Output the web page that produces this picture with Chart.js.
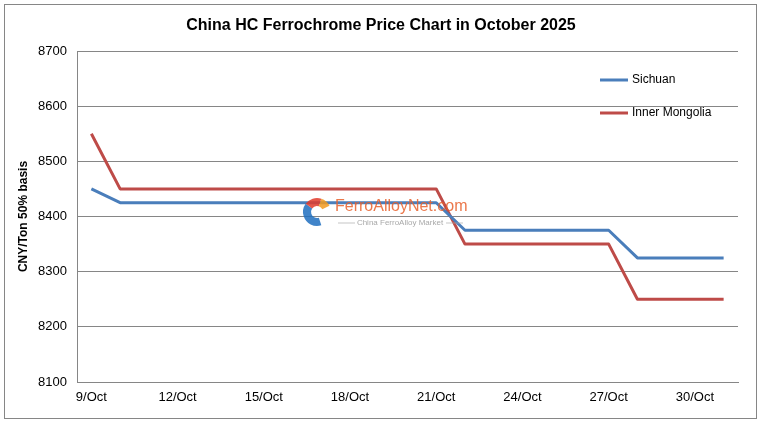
<!DOCTYPE html>
<html>
<head>
<meta charset="utf-8">
<script src="https://cdn.jsdelivr.net/npm/chart.js@4"></script>
<style>
  body { margin: 0; background: #fff; }
  canvas { display: block; }
</style>
</head>
<body>
<canvas id="priceChart" width="766" height="425"></canvas>
<script>
const dates = ['9/Oct', '10/Oct', '11/Oct', '12/Oct', '13/Oct', '14/Oct', '15/Oct', '16/Oct',
  '17/Oct', '18/Oct', '19/Oct', '20/Oct', '21/Oct', '22/Oct', '23/Oct', '24/Oct', '25/Oct',
  '26/Oct', '27/Oct', '28/Oct', '29/Oct', '30/Oct', '31/Oct'];
const sichuan = [8450, 8425, 8425, 8425, 8425, 8425, 8425, 8425, 8425, 8425, 8425, 8425, 8425,
  8375, 8375, 8375, 8375, 8375, 8375, 8325, 8325, 8325, 8325];
const innerMongolia = [8550, 8450, 8450, 8450, 8450, 8450, 8450, 8450, 8450, 8450, 8450, 8450, 8450,
  8350, 8350, 8350, 8350, 8350, 8350, 8250, 8250, 8250, 8250];

const FONT = "'Liberation Sans', Arial, sans-serif";
const GRID = '#868686';

// titre, cadre, légende et filigrane dessinés à la main
const decor = {
  id: 'decor',
  beforeDraw(chart) {
    const c = chart.ctx;
    c.save();
    c.fillStyle = '#fff';
    c.fillRect(0, 0, chart.width, chart.height);
    c.strokeStyle = GRID;
    c.lineWidth = 1;
    c.strokeRect(4.5, 4.5, 752, 414);
    c.fillStyle = '#000';
    c.font = 'bold 16px ' + FONT;
    c.textAlign = 'center';
    c.textBaseline = 'middle';
    c.fillText('China HC Ferrochrome Price Chart in October 2025', 381, 26);
    c.restore();
  },
  afterDatasetsDraw(chart) {
    const c = chart.ctx;
    c.save();
    // filigrane
    c.globalAlpha = 0.85;
    const cx = 317, cy = 212;
    c.lineWidth = 8;
    c.strokeStyle = '#1e6fc0';
    c.beginPath(); c.arc(cx, cy, 10, Math.PI * 0.4, Math.PI * 1.2); c.stroke();
    c.strokeStyle = '#e03a2a';
    c.beginPath(); c.arc(cx, cy, 10, Math.PI * 1.2, Math.PI * 1.6); c.stroke();
    c.strokeStyle = '#f29a1f';
    c.beginPath(); c.arc(cx, cy, 10, Math.PI * 1.6, Math.PI * 1.85); c.stroke();
    c.fillStyle = '#e8602c';
    c.font = '16px ' + FONT;
    c.textAlign = 'left';
    c.textBaseline = 'alphabetic';
    c.fillText('FerroAlloyNet.com', 335, 211);
    c.fillStyle = '#999';
    c.font = '8px ' + FONT;
    c.textAlign = 'center';
    c.textBaseline = 'middle';
    c.fillText('China FerroAlloy Market', 400, 223);
    c.strokeStyle = '#aaa';
    c.lineWidth = 0.8;
    c.beginPath();
    c.moveTo(338, 223); c.lineTo(355, 223);
    c.moveTo(446, 223); c.lineTo(463, 223);
    c.stroke();
    c.globalAlpha = 1;

    // légende
    const rows = [80, 113];
    chart.data.datasets.forEach((ds, i) => {
      const y = rows[i];
      c.strokeStyle = ds.borderColor;
      c.lineWidth = 3;
      c.beginPath(); c.moveTo(600, y); c.lineTo(628, y); c.stroke();
      c.fillStyle = '#000';
      c.font = '12px ' + FONT;
      c.textAlign = 'left';
      c.textBaseline = 'middle';
      c.fillText(ds.label, 632, y);
    });
    c.restore();
  }
};

new Chart(document.getElementById('priceChart').getContext('2d'), {
  type: 'line',
  data: {
    labels: dates,
    datasets: [{
      label: 'Sichuan',
      data: sichuan,
      borderColor: '#4a7ebb',
      borderWidth: 3,
      pointRadius: 0,
      tension: 0,
      borderJoinStyle: 'round'
    }, {
      label: 'Inner Mongolia',
      data: innerMongolia,
      borderColor: '#be4b48',
      borderWidth: 3,
      pointRadius: 0,
      tension: 0,
      borderJoinStyle: 'round'
    }]
  },
  options: {
    responsive: false,
    animation: false,
    layout: { padding: { top: 51, right: 28, bottom: 0, left: 0 } },
    plugins: {
      legend: { display: false },
      title: { display: false },
      tooltip: { enabled: false }
    },
    scales: {
      x: {
        offset: true,
        grid: { display: false, drawTicks: false },
        border: { display: true, color: GRID },
        ticks: {
          autoSkip: false,
          maxRotation: 0,
          padding: 8,
          color: '#000',
          font: { family: FONT, size: 13 },
          callback: function (v, i) { return i % 3 === 0 ? this.getLabelForValue(v) : ''; }
        },
        afterFit(s) { s.height = 43; }
      },
      y: {
        min: 8100,
        max: 8700,
        grid: { color: GRID, drawTicks: false },
        border: { display: true, color: GRID },
        ticks: {
          stepSize: 100,
          padding: 10,
          color: '#000',
          font: { family: FONT, size: 13 },
          callback: v => String(v)
        },
        title: {
          display: true,
          text: 'CNY/Ton 50% basis',
          color: '#000',
          font: { family: FONT, size: 12, weight: 'bold' },
          padding: { top: 16, bottom: 0 }
        },
        afterFit(s) { s.width = 77; }
      }
    }
  },
  plugins: [decor]
});
</script>
</body>
</html>
